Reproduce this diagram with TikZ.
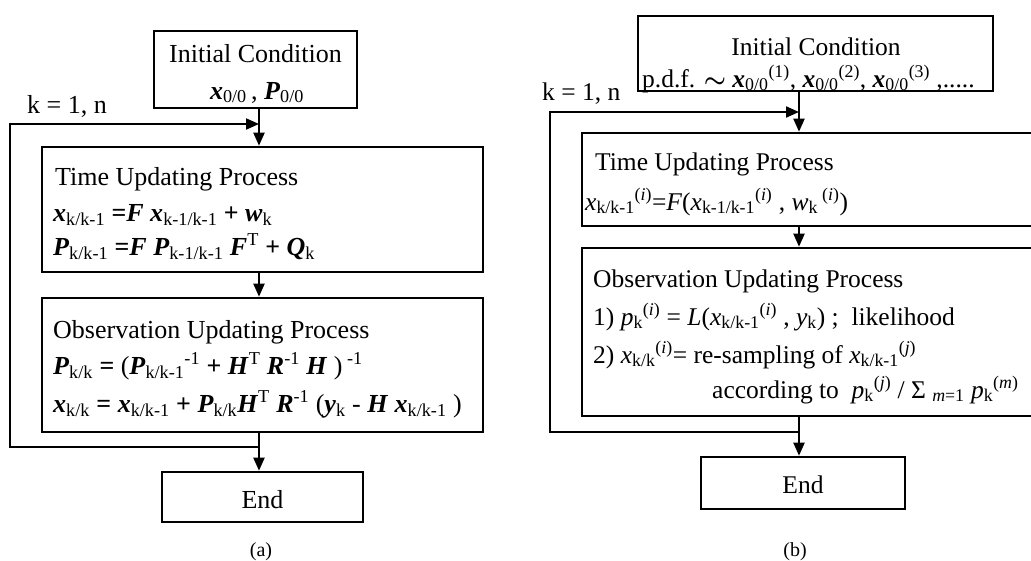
\documentclass[tikz,border=0pt]{standalone}
\usepackage{amsmath}
\usepackage{fontspec}
\setmainfont{Liberation Serif}
\usetikzlibrary{arrows.meta}
\newcommand{\bx}[1]{\textbf{\textit{#1}}}
\newcommand{\lo}[1]{\textsubscript{#1}}
\newcommand{\hi}[1]{\textsuperscript{#1}}
\begin{document}
\begin{tikzpicture}[x=1pt,y=-1pt,
  box/.style={draw, line width=2.6pt, inner sep=0pt},
  txa/.style={anchor=base west, inner sep=0pt, font=\fontsize{26}{30}\selectfont},
  txac/.style={anchor=base, inner sep=0pt, font=\fontsize{26}{30}\selectfont},
  txb/.style={anchor=base west, inner sep=0pt, font=\fontsize{25.5}{30}\selectfont},
  txbc/.style={anchor=base, inner sep=0pt, font=\fontsize{25.5}{30}\selectfont},
  captxt/.style={anchor=base, inner sep=0pt, font=\fontsize{20}{24}\selectfont},
  arr/.style={line width=2pt, -{Triangle[length=13pt,width=11pt]}}]
\clip (0,0) rectangle (1031,560);
\useasboundingbox (0,0) rectangle (1031,560);

% ---------------- panel (a) ----------------
\node[box, minimum width=203pt, minimum height=77pt] (initA) at (255.5,69.5) {};
\node[box, minimum width=441pt, minimum height=125pt] (timeA) at (262.5,209.5) {};
\node[box, minimum width=441pt, minimum height=134pt] (obsA) at (262.5,365) {};
\node[box, minimum width=201pt, minimum height=50pt] (endA) at (262.5,497) {};

\node[txac] (initA1) at (255.5,62) {Initial Condition};
\node[txac] (initA2) at (257,99) {\bx{x}\lo{0/0}\,, \bx{P}\lo{0/0}};
\node[txa] (kA) at (27,113) {k = 1, n};

\node[txa] (timeA1) at (55,185) {Time Updating Process};
\node[txa] (timeA2) at (53,221) {\bx{x}\lo{k/k-1} \textbf{=}\bx{F} \bx{x}\lo{k-1/k-1} \textbf{+} \bx{w}\lo{k}};
\node[txa] (timeA3) at (53,255) {\bx{P}\lo{k/k-1} \textbf{=}\bx{F} \bx{P}\lo{k-1/k-1} \bx{F}\hi{T} \textbf{+} \bx{Q}\lo{k}};

\node[txa] (obsA1) at (53,338) {Observation Updating Process};
\node[txa] (obsA2) at (53,374) {\bx{P}\lo{k/k} \textbf{=} (\bx{P}\lo{k/k-1}\hi{-1} \textbf{+} \bx{H}\hi{T} \bx{R}\hi{-1} \bx{H} )\hi{ -1}};
\node[txa] (obsA3) at (53,412) {\bx{x}\lo{k/k} \textbf{=} \bx{x}\lo{k/k-1} \textbf{+} \bx{P}\lo{k/k}\bx{H}\hi{T} \bx{R}\hi{-1} (\bx{y}\lo{k} - \bx{H} \bx{x}\lo{k/k-1} )};

\node[txac] (endA1) at (262.5,508) {End};
\node[captxt] (capA) at (261,556) {(a)};

\coordinate (cA) at (259,0);
\coordinate (tA) at (259,124);
\coordinate (jA) at (259,447);
\coordinate (lbA) at (10,447);
\coordinate (ltA) at (10,124);
\draw[arr] (initA.south -| cA) -- (timeA.north -| cA);
\draw[arr] (timeA.south -| cA) -- (obsA.north -| cA);
\draw[arr] (obsA.south -| cA) -- (endA.north -| cA);
\draw[arr] (jA) -- (lbA) -- (ltA) -- (tA);

% ---------------- panel (b) ----------------
\node[box, minimum width=355pt, minimum height=75pt] (initB) at (815.5,53.5) {};
\node[box, minimum width=463pt, minimum height=93pt] (timeB) at (813.5,179.5) {};
\node[box, minimum width=463pt, minimum height=168pt] (obsB) at (813.5,332) {};
\node[box, minimum width=204pt, minimum height=52pt] (endB) at (803,483) {};

\node[txbc] (initB1) at (816,55) {Initial Condition};
\node[txb] (initB2) at (642,87) {p.d.f. $\boldsymbol{\sim}$ \bx{x}\lo{0/0}\hi{(1)}, \bx{x}\lo{0/0}\hi{(2)}, \bx{x}\lo{0/0}\hi{(3)} ,.....};
\node[txb] (kB) at (542,100) {k = 1, n};

\node[txb] (timeB1) at (595,170) {Time Updating Process};
\node[txb] (timeB2) at (585,210) {\textit{x}\lo{k/k-1}\hi{(\textit{i})}=\textit{F}(\textit{x}\lo{k-1/k-1}\hi{(\textit{i})} , \textit{w}\lo{k}\,\hi{(\textit{i})})};

\node[txb] (obsB1) at (593,287) {Observation Updating Process};
\node[txb] (obsB2) at (593,325) {1) \textit{p}\lo{k}\hi{(\textit{i})} = \textit{L}(\textit{x}\lo{k/k-1}\hi{(\textit{i})} , \textit{y}\lo{k}) ;\enspace likelihood};
\node[txb] (obsB3) at (593,363) {2) \textit{x}\lo{k/k}\hi{(\textit{i})}= re-sampling of \textit{x}\lo{k/k-1}\hi{(\textit{j})}};
\node[txb] (obsB4) at (712,398) {according to\enspace \textit{p}\lo{k}\hi{(\textit{j})} / Σ \lo{\textit{m}=1} \textit{p}\lo{k}\hi{(\textit{m})}};

\node[txbc] (endB1) at (803,493) {End};
\node[captxt] (capB) at (795,556) {(b)};

\coordinate (cB) at (799,0);
\coordinate (tB) at (799,112);
\coordinate (jB) at (799,432);
\coordinate (lbB) at (550,432);
\coordinate (ltB) at (550,112);
\draw[arr] (initB.south -| cB) -- (timeB.north -| cB);
\draw[arr] (timeB.south -| cB) -- (obsB.north -| cB);
\draw[arr] (obsB.south -| cB) -- (endB.north -| cB);
\draw[arr] (jB) -- (lbB) -- (ltB) -- (tB);
\end{tikzpicture}
\end{document}
